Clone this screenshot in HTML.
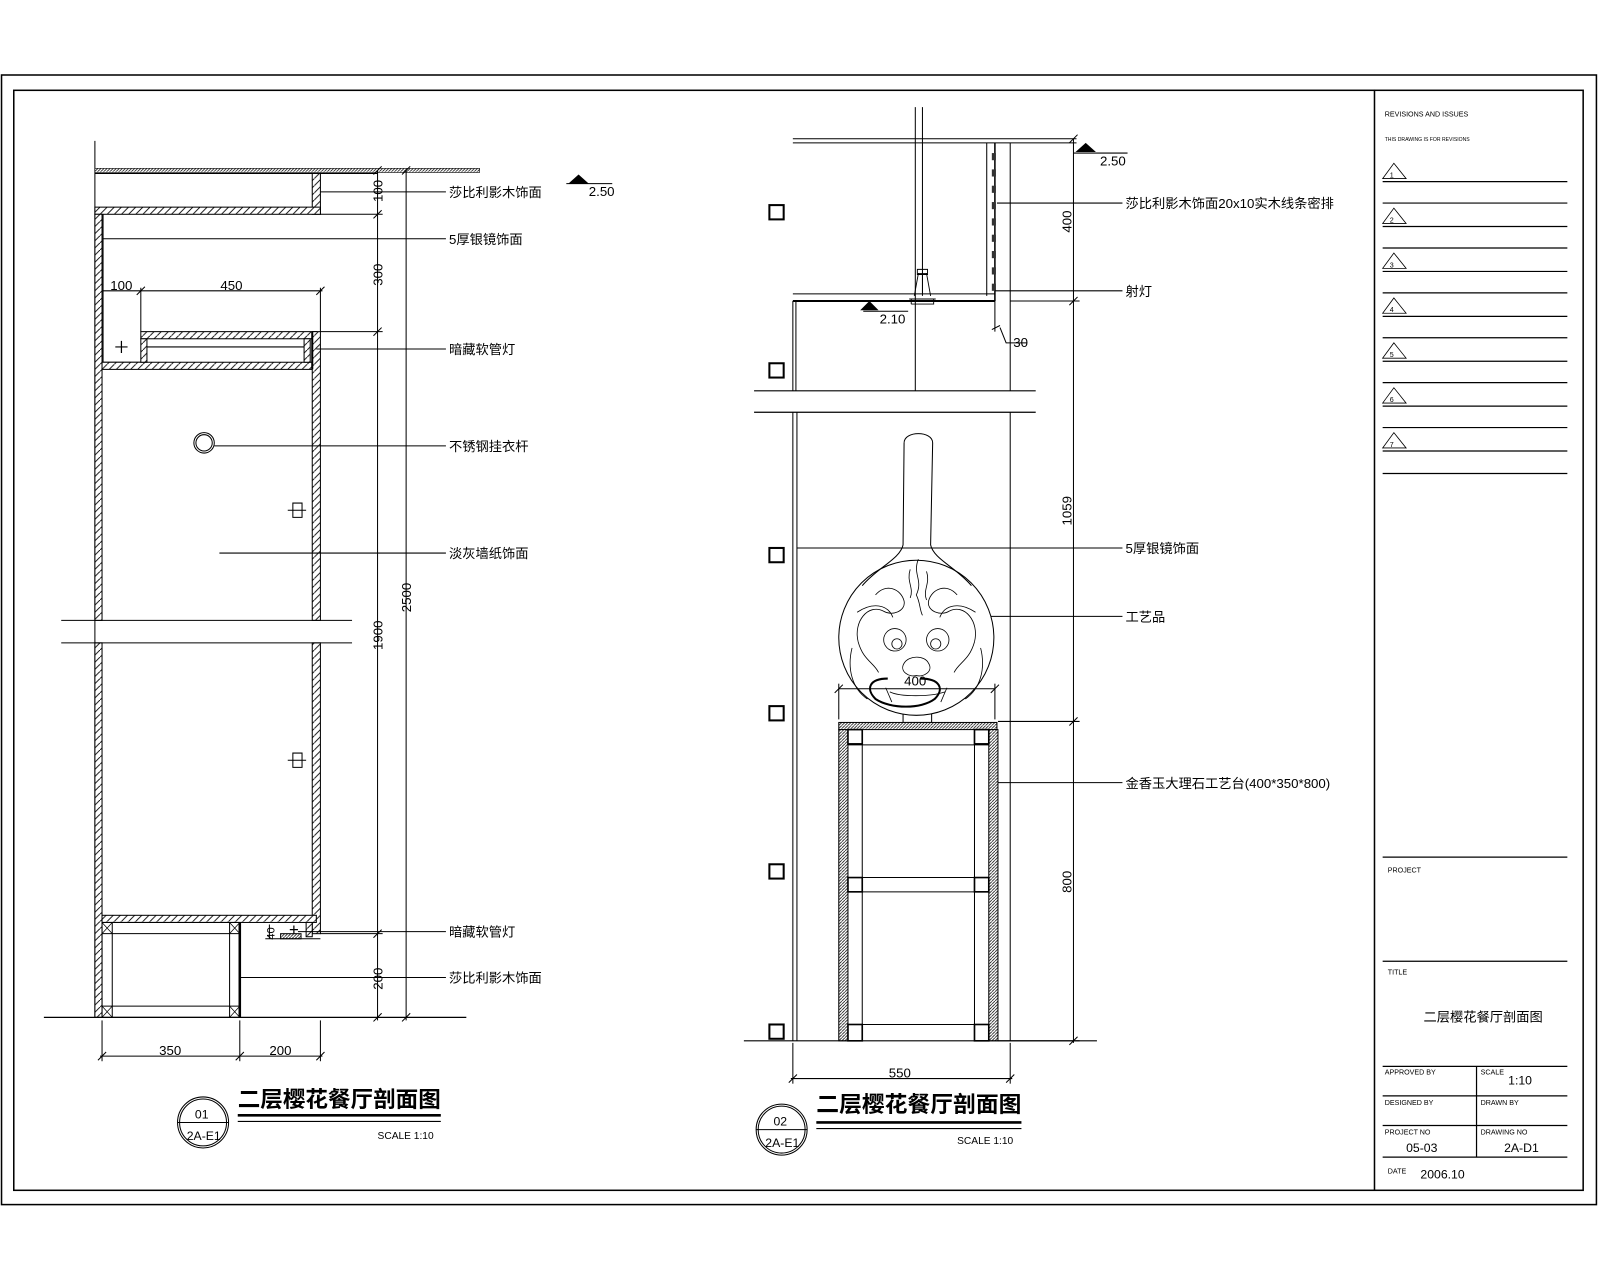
<!DOCTYPE html>
<html><head><meta charset="utf-8"><style>
html,body{margin:0;padding:0;background:#fff;width:1600px;height:1280px;overflow:hidden}
svg{display:block}
text{font-family:"Liberation Sans","Noto Sans CJK SC",sans-serif;fill:#000}
</style></head><body>
<svg width="1600" height="1280" viewBox="0 0 1568 1254.4" preserveAspectRatio="none" xmlns="http://www.w3.org/2000/svg">
<defs>
<pattern id="h" width="7" height="7" patternUnits="userSpaceOnUse"><rect width="7" height="7" fill="#fff"/><path d="M0 7L7 0" stroke="#000" stroke-width="0.9"/></pattern>
<pattern id="hd" width="3" height="3" patternUnits="userSpaceOnUse"><rect width="3" height="3" fill="#fff"/><path d="M0 3L3 0" stroke="#000" stroke-width="0.7"/></pattern>
</defs>
<g fill="none" stroke="#000" stroke-width="1">
<rect x="1.5" y="73.5" width="1563" height="1107" stroke-width="1.5"/>
<rect x="13.5" y="88.5" width="1538" height="1078" stroke-width="1.5"/>
<line x1="1347" y1="88" x2="1347" y2="1166" stroke-width="1.5"/>
<g stroke-width="1.2">
<line x1="1355" y1="178" x2="1536" y2="178"/><line x1="1355" y1="199" x2="1536" y2="199"/>
<line x1="1355" y1="222" x2="1536" y2="222"/><line x1="1355" y1="243" x2="1536" y2="243"/>
<line x1="1355" y1="266" x2="1536" y2="266"/><line x1="1355" y1="287" x2="1536" y2="287"/>
<line x1="1355" y1="310" x2="1536" y2="310"/><line x1="1355" y1="331" x2="1536" y2="331"/>
<line x1="1355" y1="354" x2="1536" y2="354"/><line x1="1355" y1="375" x2="1536" y2="375"/>
<line x1="1355" y1="398" x2="1536" y2="398"/><line x1="1355" y1="419" x2="1536" y2="419"/>
<line x1="1355" y1="442" x2="1536" y2="442"/><line x1="1355" y1="464" x2="1536" y2="464"/>
</g>
<path d="M1355 175L1366 160L1378 175Z M1355 219L1366 204L1378 219Z M1355 263L1366 248L1378 263Z M1355 307L1366 292L1378 307Z M1355 351L1366 336L1378 351Z M1355 395L1366 380L1378 395Z M1355 439L1366 424L1378 439Z" stroke-width="0.8"/>
<g stroke-width="1.2">
<line x1="1355" y1="840" x2="1536" y2="840"/>
<line x1="1355" y1="942" x2="1536" y2="942"/>
<line x1="1355" y1="1045" x2="1536" y2="1045"/>
<line x1="1355" y1="1074" x2="1536" y2="1074"/>
<line x1="1355" y1="1103" x2="1536" y2="1103"/>
<line x1="1355" y1="1134" x2="1536" y2="1134"/>
<line x1="1447" y1="1045" x2="1447" y2="1134"/>
</g>

<!-- LEFT -->
<line x1="93" y1="138" x2="93" y2="997"/>
<rect x="93" y="165" width="377" height="4" fill="url(#hd)" stroke-width="0.6"/>
<line x1="93" y1="170" x2="370" y2="170"/>
<rect x="306" y="170" width="8" height="40" fill="url(#h)"/>
<rect x="93" y="203" width="221" height="7" fill="url(#h)"/>
<rect x="93" y="210" width="7" height="398" fill="url(#h)"/>
<rect x="93" y="630" width="7" height="367" fill="url(#h)"/>
<line x1="101" y1="210" x2="101" y2="355"/>
<line x1="101" y1="355" x2="138" y2="355"/>
<rect x="138" y="325" width="172" height="7" fill="url(#h)"/>
<rect x="100" y="355" width="210" height="7" fill="url(#h)"/>
<rect x="138" y="332" width="6" height="23" fill="url(#h)"/>
<rect x="298" y="332" width="6" height="23" fill="url(#h)"/>
<line x1="144" y1="340" x2="298" y2="340"/>
<path d="M113 340h12M119 334v12" stroke-width="1.2"/>
<rect x="306" y="325" width="8" height="283" fill="url(#h)"/>
<rect x="306" y="630" width="8" height="285" fill="url(#h)"/>
<line x1="306" y1="325" x2="306" y2="362" stroke-width="2"/>
<line x1="60" y1="608" x2="345" y2="608"/>
<line x1="60" y1="630" x2="345" y2="630"/>
<rect x="100" y="897" width="210" height="7" fill="url(#h)"/>
<rect x="100" y="904" width="135" height="93"/>
<line x1="110" y1="904" x2="110" y2="997"/><line x1="225" y1="904" x2="225" y2="997"/>
<line x1="100" y1="915" x2="235" y2="915"/><line x1="100" y1="986" x2="235" y2="986"/>
<path d="M100 904l10 11M110 904l-10 11M225 904l10 11M235 904l-10 11M100 986l10 11M110 986l-10 11M225 986l10 11M235 986l-10 11" stroke-width="0.7"/>
<line x1="235" y1="904" x2="235" y2="997" stroke-width="2.5"/>
<rect x="275" y="915" width="20" height="5" fill="url(#hd)"/>
<rect x="300" y="904" width="6" height="14" fill="url(#h)"/>
<path d="M284 911h8M288 907v8" stroke-width="1.2"/>
<line x1="43" y1="997" x2="457" y2="997" stroke-width="1.2"/>
<circle cx="200" cy="434" r="10"/><circle cx="200" cy="434" r="8"/>
<path d="M287 493h9v14h-9z M282 500h18"/>
<path d="M287 738h9v14h-9z M282 745h18"/>
<line x1="370" y1="167" x2="370" y2="1000"/>
<line x1="398" y1="167" x2="398" y2="1000"/>
<line x1="314" y1="210" x2="375" y2="210"/>
<line x1="314" y1="325" x2="375" y2="325"/>
<line x1="314" y1="915" x2="375" y2="915"/>
<path d="M366 214l8-8M366 329l8-8M366 919l8-8M366 1001l8-8M394 1001l8-8M394 171l8-8M366 171l8-8"/>
<line x1="100" y1="285" x2="316" y2="285"/>
<line x1="138" y1="282" x2="138" y2="325"/>
<line x1="314" y1="282" x2="314" y2="325"/>
<path d="M134 289l8-8M310 289l8-8"/>
<line x1="264" y1="906" x2="264" y2="920"/>
<line x1="260" y1="920" x2="314" y2="920"/>
<line x1="98" y1="1035" x2="316" y2="1035"/>
<line x1="100" y1="1000" x2="100" y2="1040"/><line x1="235" y1="1000" x2="235" y2="1040"/><line x1="314" y1="1000" x2="314" y2="1040"/>
<path d="M96 1039l8-8M231 1039l8-8M310 1039l8-8"/>
<line x1="314" y1="188" x2="437" y2="188"/>
<line x1="101" y1="234" x2="437" y2="234"/>
<line x1="310" y1="342" x2="437" y2="342"/>
<line x1="210" y1="437" x2="437" y2="437"/>
<line x1="215" y1="542" x2="437" y2="542"/>
<line x1="292" y1="913" x2="437" y2="913"/>
<line x1="236" y1="958" x2="437" y2="958"/>
<line x1="555" y1="180" x2="600" y2="180"/>
<circle cx="199" cy="1100" r="25"/><circle cx="199" cy="1100" r="23"/>
<line x1="174" y1="1100" x2="224" y2="1100"/>
<line x1="233" y1="1093" x2="432" y2="1093" stroke-width="2.5"/>
<line x1="233" y1="1099" x2="432" y2="1099"/>

<!-- RIGHT -->
<line x1="777" y1="136" x2="1055" y2="136"/>
<line x1="777" y1="140" x2="1055" y2="140"/>
<line x1="897" y1="105" x2="897" y2="383"/>
<line x1="904" y1="105" x2="904" y2="290"/>
<line x1="967" y1="140" x2="967" y2="290"/>
<line x1="975" y1="140" x2="975" y2="295" stroke-width="1.5"/>
<g fill="#333" stroke="none">
<rect x="972" y="150" width="4" height="7"/><rect x="972" y="166" width="4" height="7"/><rect x="972" y="182" width="4" height="7"/><rect x="972" y="198" width="4" height="7"/><rect x="972" y="214" width="4" height="7"/><rect x="972" y="230" width="4" height="7"/><rect x="972" y="246" width="4" height="7"/><rect x="972" y="262" width="4" height="7"/><rect x="972" y="278" width="4" height="7"/>
</g>
<line x1="990" y1="140" x2="990" y2="383"/>
<line x1="777" y1="288" x2="975" y2="288"/>
<line x1="777" y1="295" x2="975" y2="295" stroke-width="2"/>
<line x1="777" y1="295" x2="777" y2="383"/><line x1="780" y1="295" x2="780" y2="383"/>
<line x1="739" y1="383" x2="1015" y2="383" stroke-width="1.2"/>
<line x1="739" y1="404" x2="1015" y2="404" stroke-width="1.2"/>
<line x1="777" y1="404" x2="777" y2="1020"/><line x1="781" y1="404" x2="781" y2="1020"/>
<line x1="990" y1="404" x2="990" y2="1020"/>
<path d="M891 293h26M893 298h22v-5M893 293v5M896 290l4-22h8l4 22M899 264h10v5h-10z M904 269v18" stroke-width="0.9"/>
<line x1="975" y1="295" x2="975" y2="325"/>
<path d="M972 323l8-4M980 321l6 15h20"/>
<g stroke-width="2"><rect x="754" y="201" width="14" height="14"/><rect x="754" y="356" width="14" height="14"/><rect x="754" y="537" width="14" height="14"/><rect x="754" y="692" width="14" height="14"/><rect x="754" y="847" width="14" height="14"/><rect x="754" y="1004" width="14" height="14"/></g>
<line x1="1052" y1="136" x2="1052" y2="1022"/>
<line x1="990" y1="295" x2="1058" y2="295"/>
<line x1="978" y1="707" x2="1058" y2="707"/>
<line x1="978" y1="1020" x2="1058" y2="1020"/>
<path d="M1048 140l8-8M1048 299l8-8M1048 711l8-8M1048 1024l8-8"/>
<line x1="1052" y1="150" x2="1105" y2="150"/>
<line x1="846" y1="305" x2="890" y2="305"/>
<line x1="977" y1="199" x2="1100" y2="199"/>
<line x1="975" y1="285" x2="1100" y2="285"/>
<line x1="781" y1="537" x2="1100" y2="537"/>
<line x1="936" y1="604" x2="1100" y2="604"/>
<line x1="975" y1="767" x2="1100" y2="767"/>
<!-- vase -->
<rect x="885" y="690" width="28" height="18"/>
<circle cx="898" cy="625" r="76" fill="#fff"/>
<path d="M886 434c0-12 28-12 28 0l-2 100c3 14 25 22 40 40" fill="none"/>
<path d="M886 434l-1 100c-3 14-25 22-40 40"/>
<g stroke-width="0.8">
<path d="M900 548c-6 15 5 20 -2 35c4 8 3 14 6 20M892 558c-4 12 4 18 0 28M908 560c4 12-4 18 0 28"/>
<path d="M858 583c10-12 25-6 28 6c2 10-12 15-20 10c-15-8-30 10-25 30c5 18 15 20 20 30"/>
<path d="M938 583c-10-12-25-6-28 6c-2 10 12 15 20 10c15-8 30 10 25 30c-5 18-15 20-20 30"/>
<path d="M840 600c15-10 30-8 35 5M956 600c-15-10-30-8-35 5"/>
<circle cx="877" cy="627" r="11"/><circle cx="879" cy="631" r="5"/>
<circle cx="919" cy="627" r="11"/><circle cx="917" cy="631" r="5"/>
<path d="M886 650c5-8 20-8 24 0c5 8-5 14-12 12c-7 2-17-4-12-12z"/>
<path d="M835 635c-5 20 0 40 15 50M961 635c5 20 0 40-15 50"/>
<path d="M870 665c-18 0-22 10-12 20c15 10 45 10 58 0c10-10 5-20-14-20" stroke-width="2"/>
<path d="M872 678c10 5 40 5 54 0M868 674l6 14M928 674l-6 14"/>
</g>
<line x1="822" y1="675" x2="975" y2="675"/>
<line x1="822" y1="670" x2="822" y2="705"/><line x1="975" y1="670" x2="975" y2="705"/>
<path d="M818 679l8-8M971 679l8-8"/>
<rect x="822" y="708" width="155" height="7" fill="url(#hd)"/>
<rect x="822" y="715" width="9" height="305" fill="url(#hd)"/>
<rect x="969" y="715" width="9" height="305" fill="url(#hd)"/>
<g stroke-width="1.6"><rect x="831" y="715" width="14" height="14"/><rect x="955" y="715" width="14" height="14"/><rect x="831" y="860" width="14" height="14"/><rect x="955" y="860" width="14" height="14"/><rect x="831" y="1004" width="14" height="16"/><rect x="955" y="1004" width="14" height="16"/></g>
<line x1="845" y1="715" x2="845" y2="1020"/><line x1="955" y1="715" x2="955" y2="1020"/>
<line x1="831" y1="730" x2="969" y2="730"/>
<line x1="831" y1="860" x2="969" y2="860"/><line x1="831" y1="874" x2="969" y2="874"/>
<line x1="831" y1="1004" x2="969" y2="1004"/>
<line x1="729" y1="1020" x2="1075" y2="1020" stroke-width="1.2"/>
<line x1="775" y1="1057" x2="992" y2="1057"/>
<line x1="777" y1="1022" x2="777" y2="1062"/><line x1="990" y1="1022" x2="990" y2="1062"/>
<path d="M773 1061l8-8M986 1061l8-8"/>
<circle cx="766" cy="1107" r="25"/><circle cx="766" cy="1107" r="23"/>
<line x1="741" y1="1107" x2="791" y2="1107"/>
<line x1="800" y1="1100" x2="1001" y2="1100" stroke-width="2.5"/>
<line x1="800" y1="1106" x2="1001" y2="1106"/>
</g>
<path d="M557 180l10-9l10 9z M1054 149l10-9l10 9z M843 304l9-9l9 9z" fill="#000"/>

<g font-size="13">
<text x="440" y="193">莎比利影木饰面</text>
<text x="440" y="239">5厚银镜饰面</text>
<text x="440" y="347">暗藏软管灯</text>
<text x="440" y="442">不锈钢挂衣杆</text>
<text x="440" y="547">淡灰墙纸饰面</text>
<text x="440" y="918">暗藏软管灯</text>
<text x="440" y="963">莎比利影木饰面</text>
<text x="1103" y="204">莎比利影木饰面20x10实木线条密排</text>
<text x="1103" y="290">射灯</text>
<text x="1103" y="542">5厚银镜饰面</text>
<text x="1103" y="609">工艺品</text>
<text x="1103" y="772">金香玉大理石工艺台(400*350*800)</text>
</g>
<g font-size="13">
<text x="577" y="192">2.50</text>
<text x="1078" y="162">2.50</text>
<text x="862" y="317">2.10</text>
<text x="993" y="340">30</text>
<text x="108" y="284">100</text>
<text x="216" y="284">450</text>
<text x="156" y="1034">350</text>
<text x="264" y="1034">200</text>
<text x="871" y="1056">550</text>
<text x="886" y="672">400</text>
<text transform="translate(375,198) rotate(-90)">100</text>
<text transform="translate(375,280) rotate(-90)">300</text>
<text transform="translate(375,637) rotate(-90)">1900</text>
<text transform="translate(375,970) rotate(-90)">200</text>
<text transform="translate(403,600) rotate(-90)">2500</text>
<text transform="translate(269,921) rotate(-90)" font-size="11">40</text>
<text transform="translate(1050,228) rotate(-90)">400</text>
<text transform="translate(1050,515) rotate(-90)">1059</text>
<text transform="translate(1050,875) rotate(-90)">800</text>
</g>
<g font-size="12">
<text x="191" y="1096">01</text><text x="183" y="1117">2A-E1</text>
<text x="758" y="1103">02</text><text x="750" y="1124">2A-E1</text>
</g>
<text x="233" y="1085" font-size="22" font-weight="bold" textLength="199" lengthAdjust="spacingAndGlyphs">二层樱花餐厅剖面图</text>
<text x="800" y="1090" font-size="22" font-weight="bold" textLength="201" lengthAdjust="spacingAndGlyphs">二层樱花餐厅剖面图</text>
<text x="370" y="1116" font-size="10">SCALE  1:10</text>
<text x="938" y="1121" font-size="10">SCALE  1:10</text>
<g font-size="7">
<text x="1357" y="114">REVISIONS AND ISSUES</text>
<text x="1357" y="138" font-size="5">THIS DRAWING IS FOR REVISIONS</text>
<text x="1362" y="174">1</text><text x="1362" y="218">2</text><text x="1362" y="262">3</text><text x="1362" y="306">4</text><text x="1362" y="350">5</text><text x="1362" y="394">6</text><text x="1362" y="438">7</text>
<text x="1360" y="855">PROJECT</text>
<text x="1360" y="955">TITLE</text>
<text x="1357" y="1053">APPROVED BY</text>
<text x="1451" y="1053">SCALE</text>
<text x="1357" y="1083">DESIGNED BY</text>
<text x="1451" y="1083">DRAWN BY</text>
<text x="1357" y="1112">PROJECT NO</text>
<text x="1451" y="1112">DRAWING NO</text>
<text x="1360" y="1150">DATE</text>
</g>
<g font-size="12">
<text x="1478" y="1063">1:10</text>
<text x="1378" y="1129">05-03</text>
<text x="1474" y="1129">2A-D1</text>
<text x="1392" y="1155">2006.10</text>
</g>
<text x="1395" y="1001" font-size="13">二层樱花餐厅剖面图</text>
</svg>
</body></html>
